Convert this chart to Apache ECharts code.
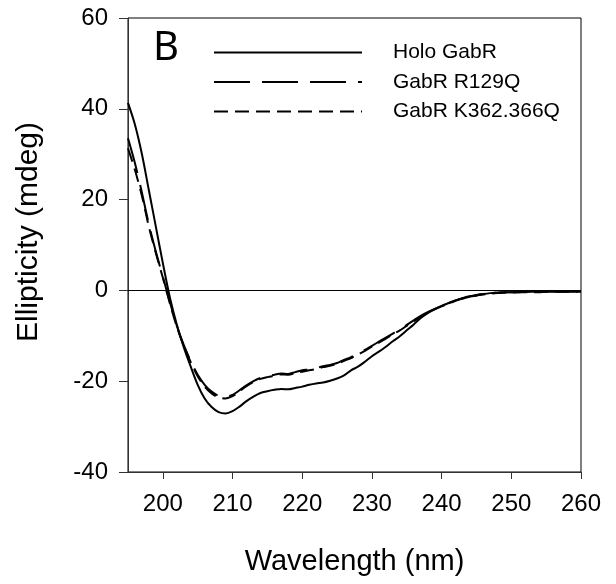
<!DOCTYPE html>
<html>
<head>
<meta charset="utf-8">
<script src="https://cdn.jsdelivr.net/npm/echarts@6/dist/echarts.min.js"></script>
<style>html,body{margin:0;padding:0;background:#fff;}#c{width:616px;height:584px;}</style>
</head>
<body>
<div id="c"></div>
<script>
const wavelengths = [195,196,197,198,199,200,201,202,203,204,205,206,207,208,209,210,211,212,213,214,215,216,217,218,219,220,221,222,223,224,225,226,227,228,229,230,231,232,233,234,235,236,237,238,239,240,241,242,243,244,245,246,247,248,249,250,251,252,253,254,255,256,257,258,259,260];
const holoGabR = [41.3,36.5,30.0,22.0,14.0,6.0,-1.5,-7.5,-12.5,-16.8,-20.8,-23.8,-25.7,-26.8,-27.1,-26.6,-25.6,-24.4,-23.4,-22.6,-22.2,-21.9,-21.7,-21.8,-21.5,-21.2,-20.8,-20.5,-20.3,-19.9,-19.4,-18.7,-17.6,-16.8,-15.7,-14.5,-13.5,-12.4,-11.2,-10.1,-8.8,-7.5,-6.1,-5.0,-4.1,-3.4,-2.8,-2.2,-1.8,-1.4,-1.1,-0.8,-0.6,-0.5,-0.4,-0.4,-0.3,-0.3,-0.3,-0.2,-0.2,-0.2,-0.2,-0.2,-0.2,-0.2];
const gabR129Q = [33.5,28.0,21.5,14.5,8.5,3.0,-2.5,-7.8,-12.0,-15.6,-18.6,-20.8,-22.3,-23.2,-23.4,-23.0,-22.0,-20.9,-20.0,-19.3,-18.9,-18.6,-18.3,-18.4,-18.0,-17.6,-17.4,-17.1,-16.7,-16.4,-16.0,-15.3,-14.7,-13.9,-13.1,-12.2,-11.3,-10.4,-9.5,-8.6,-7.6,-6.6,-5.6,-4.8,-4.1,-3.4,-2.8,-2.2,-1.7,-1.3,-1.0,-0.8,-0.6,-0.5,-0.4,-0.4,-0.4,-0.3,-0.3,-0.3,-0.3,-0.3,-0.3,-0.3,-0.3,-0.3];
const gabRK362 = [31.3,26.5,20.8,14.0,8.2,2.8,-2.8,-8.0,-12.2,-15.8,-18.9,-21.2,-22.7,-23.6,-23.8,-23.3,-22.2,-21.1,-20.2,-19.5,-19.1,-18.8,-18.5,-18.6,-18.2,-17.9,-17.6,-17.3,-16.9,-16.6,-16.2,-15.5,-14.9,-14.1,-13.3,-12.4,-11.5,-10.6,-9.7,-8.8,-7.8,-6.8,-5.8,-5.0,-4.2,-3.5,-2.9,-2.3,-1.8,-1.4,-1.1,-0.9,-0.7,-0.6,-0.5,-0.5,-0.4,-0.4,-0.4,-0.4,-0.3,-0.3,-0.3,-0.3,-0.3,-0.3];
const seriesNames = ['Holo GabR','GabR R129Q','GabR K362.366Q'];
const xTicks = [200,210,220,230,240,250,260];
const panelLabel = 'B';

const pair = (ys) => wavelengths.map((w, i) => [w, ys[i]]);
const font = '"Liberation Sans", Arial, sans-serif';

const chart = echarts.init(document.getElementById('c'), null, {renderer: 'canvas'});
chart.setOption({
  animation: false,
  backgroundColor: '#fff',
  grid: {left: 128, right: 35, top: 18, bottom: 112, show: true, borderColor: '#000', borderWidth: 1, backgroundColor: 'transparent'},
  xAxis: {
    type: 'value', min: 195, max: 260,
    name: 'Wavelength (nm)', nameLocation: 'middle', nameGap: 75,
    nameTextStyle: {fontFamily: font, fontSize: 29, color: '#000'},
    axisLine: {show: true, onZero: false, lineStyle: {color: '#333', width: 1}},
    axisTick: {show: true, inside: false, length: 7, customValues: xTicks, lineStyle: {color: '#333'}},
    axisLabel: {customValues: xTicks, fontFamily: font, fontSize: 24, color: '#000', margin: 20},
    splitLine: {show: false}
  },
  yAxis: {
    type: 'value', min: -40, max: 60, interval: 20,
    name: 'Ellipticity (mdeg)', nameLocation: 'middle', nameGap: 84, nameRotate: 90,
    nameTextStyle: {fontFamily: font, fontSize: 30, color: '#000', padding: [0, 0, 0, 26]},
    axisLine: {show: true, onZero: false, lineStyle: {color: '#333', width: 1}},
    axisTick: {show: true, inside: false, length: 9, lineStyle: {color: '#333'}},
    axisLabel: {fontFamily: font, fontSize: 24, color: '#000', margin: 20},
    splitLine: {show: false}
  },
  legend: {
    orient: 'vertical', left: 208, top: 37, itemWidth: 148, itemHeight: 24, itemGap: 8.5,
    data: seriesNames,
    itemStyle: {opacity: 0},
    textStyle: {fontFamily: font, fontSize: 21, color: '#000', padding: [0, 0, 0, 26]},
    selectedMode: false
  },
  graphic: [{
    type: 'text', left: 153, top: 29,
    style: {text: panelLabel, font: '40px "Noto Sans", sans-serif', fill: '#000'}
  }],
  series: [
    {name: seriesNames[0], type: 'line', data: pair(holoGabR), symbol: 'none', smooth: 0.3,
     lineStyle: {color: '#000', width: 2, type: 'solid'}, itemStyle: {color: '#000'},
     markLine: {silent: true, symbol: 'none', label: {show: false}, lineStyle: {color: '#000', width: 1, type: 'solid'}, data: [{yAxis: 0}]}},
    {name: seriesNames[1], type: 'line', data: pair(gabR129Q), symbol: 'none', smooth: 0.3,
     lineStyle: {color: '#000', width: 2, type: [36, 12]}, itemStyle: {color: '#000'}},
    {name: seriesNames[2], type: 'line', data: pair(gabRK362), symbol: 'none', smooth: 0.3,
     lineStyle: {color: '#000', width: 2, type: [14, 7]}, itemStyle: {color: '#000'}}
  ]
});
</script>
</body>
</html>
